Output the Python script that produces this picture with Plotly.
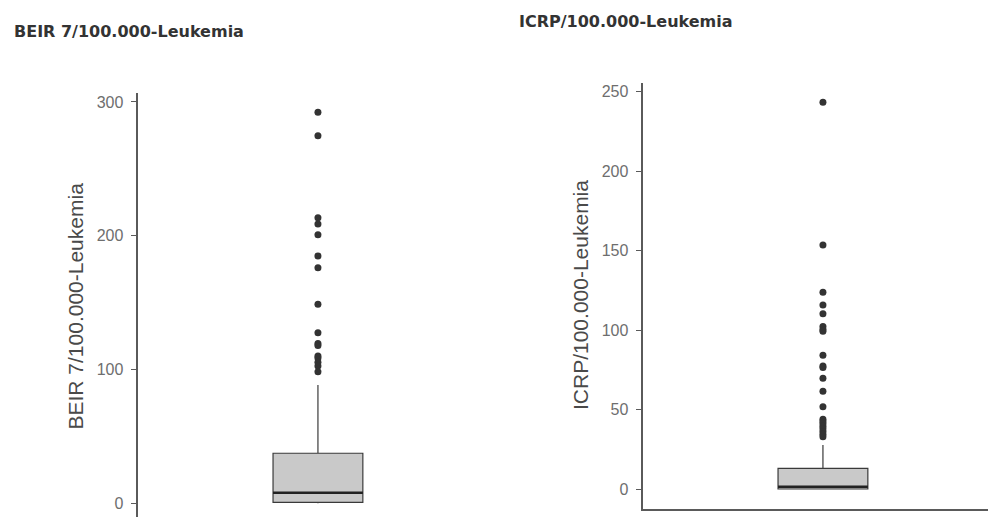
import plotly.graph_objects as go

# ---- data ----
titles = ["BEIR 7/100.000-Leukemia", "ICRP/100.000-Leukemia"]
beir_stats = dict(q1=0.7, median=7.9, q3=37.4, lowerfence=0.0, upperfence=88.4)
icrp_stats = dict(q1=0.2, median=1.6, q3=13.2, lowerfence=0.0, upperfence=27.8)
beir_outliers = [292.2, 274.7, 213.4, 208.7, 200.7, 184.8, 176.1, 148.7, 127.5,
                 119.4, 117.9, 110.1, 108.6, 105.4, 102.6, 98.4]
icrp_outliers = [243.4, 153.6, 123.9, 115.9, 110.4, 102.3, 100.4, 99.3, 84.3, 77.5,
                 76.6, 69.8, 61.6, 51.9, 44.0, 42.6, 41.2, 39.6, 38.0, 36.3, 34.6, 33.0]
beir_ticks = [0, 100, 200, 300]
icrp_ticks = [0, 50, 100, 150, 200, 250]

W, H = 988, 517
FONT = "Liberation Sans, Arial, sans-serif"
AX = "#5a5a5a"
TICKC = "#6e6e6e"

fig = go.Figure()

def add_panel(stats, outliers, xa, ya):
    fig.add_trace(go.Box(
        x=[0], q1=[stats["q1"]], median=[stats["median"]], q3=[stats["q3"]],
        lowerfence=[stats["lowerfence"]], upperfence=[stats["upperfence"]],
        width=0.9, whiskerwidth=0, boxpoints=False,
        fillcolor="#c9c9c9", line=dict(color="#3a3a3a", width=1.2),
        xaxis=xa, yaxis=ya, showlegend=False, hoverinfo="skip"))
    # thick median
    fig.add_trace(go.Scatter(
        x=[-0.45, 0.45], y=[stats["median"]] * 2, mode="lines",
        line=dict(color="#222222", width=2.6), xaxis=xa, yaxis=ya,
        showlegend=False, hoverinfo="skip"))
    fig.add_trace(go.Scatter(
        x=[0] * len(outliers), y=outliers, mode="markers",
        marker=dict(color="#333333", size=7), xaxis=xa, yaxis=ya,
        showlegend=False, hoverinfo="skip"))

add_panel(beir_stats, beir_outliers, "x", "y")
add_panel(icrp_stats, icrp_outliers, "x2", "y2")

pxu = 99.8  # px per x unit
def px(v): return v / W
def py(v): return 1 - v / H

yaxis_common = dict(showline=True, linecolor=AX, linewidth=1.5, ticks="outside",
                    ticklen=6, tickwidth=1.2, tickcolor=AX, showgrid=False,
                    zeroline=False, tickfont=dict(family=FONT, size=16, color=TICKC),
                    ticklabelstandoff=4)

fig.update_layout(
    width=W, height=H, margin=dict(l=0, r=0, t=0, b=0),
    paper_bgcolor="white", plot_bgcolor="white",
    xaxis=dict(domain=[px(138.3), px(138.3 + 3.6 * pxu)], range=[-1.8, 1.8],
               showline=False, showticklabels=False, ticks="", showgrid=False,
               zeroline=False, anchor="y"),
    yaxis=dict(domain=[0, py(93)], range=[(503.3 - 517) / 1.338, (503.3 - 93) / 1.338],
               tickvals=beir_ticks, anchor="x", **yaxis_common),
    xaxis2=dict(domain=[px(643.3), 1.0], range=[-1.8, -1.8 + (W - 643.3) / pxu],
                showline=True, linecolor=AX, linewidth=1.5, showticklabels=False,
                ticks="", showgrid=False, zeroline=False, anchor="y2"),
    yaxis2=dict(domain=[py(509), py(83.3)], range=[(489.3 - 509) / 1.5904, (489.3 - 83.3) / 1.5904],
                tickvals=icrp_ticks, anchor="x2", **yaxis_common),
)

annots = [
    dict(text=titles[0], x=px(12), y=py(31), xanchor="left", yanchor="middle",
         font=dict(family="DejaVu Sans", size=16, color="#333333"), bold=True),
    dict(text=titles[1], x=px(517), y=py(21.5), xanchor="left", yanchor="middle",
         font=dict(family="DejaVu Sans", size=16, color="#333333"), bold=True),
    dict(text=titles[0], x=px(75), y=py(306.5), textangle=-90, xanchor="center",
         yanchor="middle", font=dict(family=FONT, size=21, color="#4a4a4a")),
    dict(text=titles[1], x=px(580), y=py(295), textangle=-90, xanchor="center",
         yanchor="middle", font=dict(family=FONT, size=21, color="#4a4a4a")),
]
for a in annots:
    bold = a.pop("bold", False)
    if bold:
        a["text"] = "<b>" + a["text"] + "</b>"
    fig.add_annotation(xref="paper", yref="paper", showarrow=False, **a)

fig.write_html("out.html")
